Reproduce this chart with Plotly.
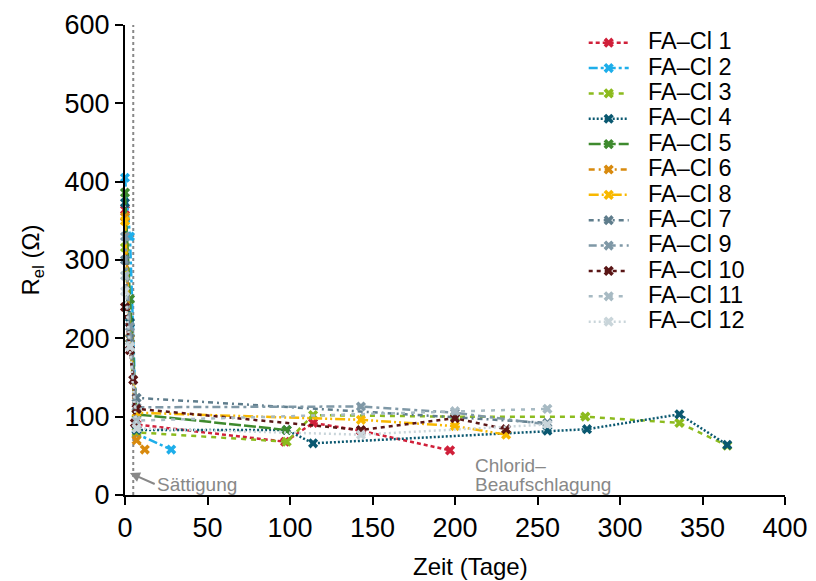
import plotly.graph_objects as go

names = ["FA\u2013Cl 1", "FA\u2013Cl 2", "FA\u2013Cl 3", "FA\u2013Cl 4", "FA\u2013Cl 5", "FA\u2013Cl 6",
         "FA\u2013Cl 8", "FA\u2013Cl 7", "FA\u2013Cl 9", "FA\u2013Cl 10", "FA\u2013Cl 11", "FA\u2013Cl 12"]

days_1 = [0, 3, 7, 97, 114, 143, 197]
vals_1 = [364, 200, 90, 68, 92, 82, 57]
days_2 = [0, 3, 7, 28]
vals_2 = [405, 330, 78, 58]
days_3 = [0, 3, 7, 98, 114, 200, 279, 336, 365]
vals_3 = [316, 200, 80, 68, 102, 100, 100, 92, 63]
days_4 = [0, 3, 7, 98, 114, 256, 280, 336, 365]
vals_4 = [373, 220, 83, 83, 66, 82, 84, 103, 64]
days_5 = [0, 3, 7, 98]
vals_5 = [386, 250, 103, 83]
days_6 = [0, 3, 7, 12]
vals_6 = [355, 200, 70, 58]
days_8 = [0, 3, 7, 143, 200, 231]
vals_8 = [350, 200, 105, 96, 88, 77]
days_7 = [0, 3, 7, 256]
vals_7 = [300, 200, 124, 92]
days_9 = [0, 3, 7, 143, 200, 256]
vals_9 = [330, 215, 112, 113, 105, 90]
days_10 = [0, 3, 5, 6, 7, 143, 200, 231]
vals_10 = [240, 185, 147, 92, 110, 83, 98, 84]
days_11 = [0, 3, 7, 200, 256]
vals_11 = [280, 190, 95, 107, 110]
days_12 = [0, 3, 7, 143, 256]
vals_12 = [260, 189, 85, 77, 90]

all_days = [days_1, days_2, days_3, days_4, days_5, days_6, days_8, days_7, days_9, days_10, days_11, days_12]
all_vals = [vals_1, vals_2, vals_3, vals_4, vals_5, vals_6, vals_8, vals_7, vals_9, vals_10, vals_11, vals_12]

colors = ["#D0203A", "#1EAEEA", "#8CBB1E", "#0A5870", "#3E8A2E", "#D88A0E",
          "#F8B800", "#5F7D8C", "#7F98A6", "#5A1616", "#A7BAC3", "#C9D5DA"]
dashes = ["4px,3px", "9px,3px,3px,3px", "5px,5px", "2px,2px", "12px,3px", "6px,4px,2px,4px",
          "10px,3px,2px,3px,2px,3px", "5px,4px,2px,4px", "8px,4px,3px,4px", "4px,4px", "4px,6px", "2px,3px"]

fig = go.Figure()
for n, d, v, c, ds in zip(names, all_days, all_vals, colors, dashes):
    label = '\u00a0\u00a0\u00a0<span style="font-size:23.5px">' + n + '</span>'
    fig.add_trace(go.Scatter(x=d, y=v, name=label, mode="lines+markers", cliponaxis=False,
                             line=dict(color=c, width=2.5, dash=ds),
                             marker=dict(symbol="x", size=9, color=c)))

fig.add_shape(type="line", x0=5, x1=5, y0=0, y1=600, xref="x", yref="y",
              line=dict(color="#888888", width=2, dash="dot"), layer="below")

fig.add_annotation(x=3, y=28, ax=18, ay=14, axref="x", ayref="y", xref="x", yref="y",
                   text="S\u00e4ttigung", showarrow=True, arrowhead=2, arrowsize=1, arrowwidth=2,
                   arrowcolor="#888888", xanchor="left", yanchor="middle",
                   font=dict(size=19, color="#888888", family="Liberation Sans"))
fig.add_annotation(x=211, y=38, xref="x", yref="y", text="Chlorid\u2013",
                   showarrow=False, xanchor="left", yanchor="middle", align="left",
                   font=dict(size=19, color="#888888", family="Liberation Sans"))
fig.add_annotation(x=211, y=14, xref="x", yref="y", text="Beaufschlagung",
                   showarrow=False, xanchor="left", yanchor="middle", align="left",
                   font=dict(size=19, color="#888888", family="Liberation Sans"))
fig.add_annotation(x=0.524, y=-0.153, xref="paper", yref="paper", text="Zeit (Tage)",
                   showarrow=False, xanchor="center", yanchor="middle",
                   font=dict(size=24, color="black", family="Liberation Sans"))

fig.update_layout(
    width=816, height=581, margin=dict(l=125, r=31, t=25, b=86),
    plot_bgcolor="white", paper_bgcolor="white",
    font=dict(family="Liberation Sans", size=27, color="black"),
    showlegend=True,
    legend=dict(x=0.695, y=1.0, xanchor="left", yanchor="top", bgcolor="rgba(0,0,0,0)",
                font=dict(size=17.2), tracegroupgap=0, itemwidth=40),
    xaxis=dict(range=[0, 400], tickvals=[0, 50, 100, 150, 200, 250, 300, 350, 400],
               showline=True, linecolor="black", linewidth=2, ticks="outside", ticklen=8,
               tickwidth=2, tickcolor="black", showgrid=False, zeroline=False, automargin=False),
    yaxis=dict(range=[0, 600], tickvals=[0, 100, 200, 300, 400, 500, 600],
               showline=True, linecolor="black", linewidth=2, ticks="outside", ticklen=8,
               tickwidth=2, tickcolor="black", showgrid=False, zeroline=False, automargin=False,
               title=dict(text="R<sub>el</sub> (\u03a9)", font=dict(size=24), standoff=18)),
)

fig.write_html("out.html")
